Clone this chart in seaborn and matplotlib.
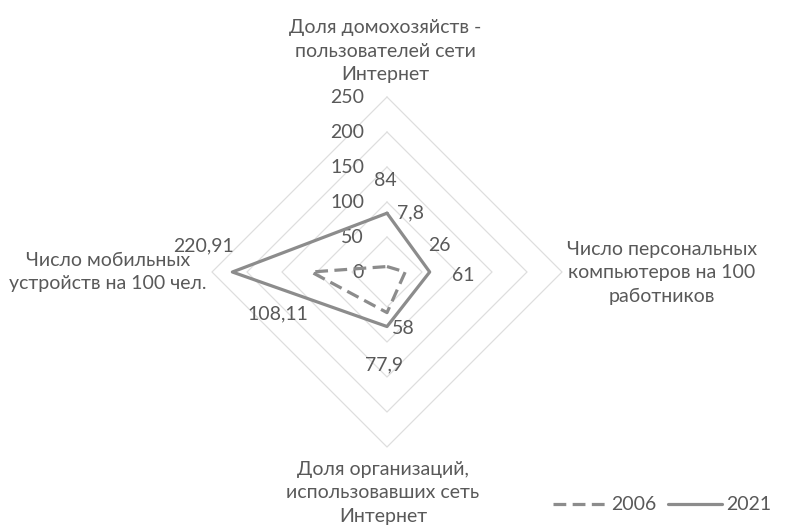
import numpy as np
import pandas as pd
import seaborn as sns
import matplotlib.pyplot as plt

# Radar axes (clockwise from the top)
categories = [
    "Доля домохозяйств -\nпользователей сети\nИнтернет",
    "Число персональных\nкомпьютеров на 100\nработников",
    "Доля организаций,\nиспользовавших сеть\nИнтернет",
    "Число мобильных\nустройств на 100 чел.",
]
years = ["2006", "2021"]
values_2006 = [7.8, 26, 58, 108.11]
values_2021 = [84, 61, 77.9, 220.91]
value_labels_2006 = ["7,8", "26", "58", "108,11"]
value_labels_2021 = ["84", "61", "77,9", "220,91"]
ring_ticks = [0, 50, 100, 150, 200, 250]

sns.set_theme(style="white")
plt.rcParams["font.family"] = ["Lato", "Open Sans", "DejaVu Sans"]

TEXT = "#595959"
LINE = "#8c8c8c"
GRID = "#dedede"
FS = 14

W, H = 805, 531
cx, cy = 387, 272          # centre of the radar, pixels
scale = 0.70               # pixels per unit
PX = 0.72                  # points per pixel at 100 dpi

fig = plt.figure(figsize=(W / 100, H / 100), dpi=100)
ax = fig.add_axes([0, 0, 1, 1])
ax.set_xlim(-cx / scale, (W - cx) / scale)
ax.set_ylim(-(H - cy) / scale, cy / scale)
ax.axis("off")

angles = np.pi / 2 - np.arange(len(categories)) * np.pi / 2
dx, dy = np.round(np.cos(angles), 6), np.round(np.sin(angles), 6)

# diamond gridlines
for r in ring_ticks[1:]:
    ax.plot(np.append(r * dx, r * dx[0]), np.append(r * dy, r * dy[0]),
            color=GRID, lw=0.9, zorder=1)

# ring value labels along the top axis
for r in ring_ticks:
    ax.annotate(str(r), xy=(0, r), xytext=(-23 * PX, 0), textcoords="offset points",
                ha="right", va="center", fontsize=FS, color=TEXT)

# series polygons
rows = []
for year, vals in zip(years, [values_2006, values_2021]):
    vals_closed = list(vals) + [vals[0]]
    for i, v in enumerate(vals_closed):
        k = i % len(vals)
        rows.append({"year": year, "order": i, "x": v * dx[k], "y": v * dy[k]})
df = pd.DataFrame(rows)

sns.lineplot(data=df, x="x", y="y", hue="year", style="year", units="year",
             palette={"2006": LINE, "2021": LINE},
             dashes={"2006": (4, 2), "2021": ""},
             sort=False, estimator=None, linewidth=2.3, ax=ax, legend=True, zorder=3)

# data labels: pixel offsets from each point
offs_2006 = [(23, -54), (34, -27), (16, 16), (-33, 42)]
offs_2021 = [(-2, -33), (34, 3), (-3, 38), (-29, -26)]
for vals, labs, offs in [(values_2006, value_labels_2006, offs_2006),
                         (values_2021, value_labels_2021, offs_2021)]:
    for k, (v, lab, (ox, oy)) in enumerate(zip(vals, labs, offs)):
        ax.annotate(lab, xy=(v * dx[k], v * dy[k]), xytext=(ox * PX, -oy * PX),
                    textcoords="offset points", ha="center", va="center",
                    fontsize=FS, color=TEXT)

# category labels
cat_offs = [(-2, -46), (100, 1), (-4, 46), (-104, 0)]
rmax = ring_ticks[-1]
for k, (cat, (ox, oy)) in enumerate(zip(categories, cat_offs)):
    ax.annotate(cat, xy=(rmax * dx[k], rmax * dy[k]), xytext=(ox * PX, -oy * PX),
                textcoords="offset points", ha="center", va="center",
                multialignment="center", linespacing=1.45, fontsize=FS, color=TEXT)

handles, labels = ax.get_legend_handles_labels()
ax.legend(handles, labels, loc="center", bbox_to_anchor=(662 / W, 1 - 505 / H),
          ncol=2, frameon=False, fontsize=FS, labelcolor=TEXT,
          handlelength=2.8, handletextpad=0.2, columnspacing=0.6,
          borderpad=0, borderaxespad=0)

fig.savefig("out.png", dpi=100)
